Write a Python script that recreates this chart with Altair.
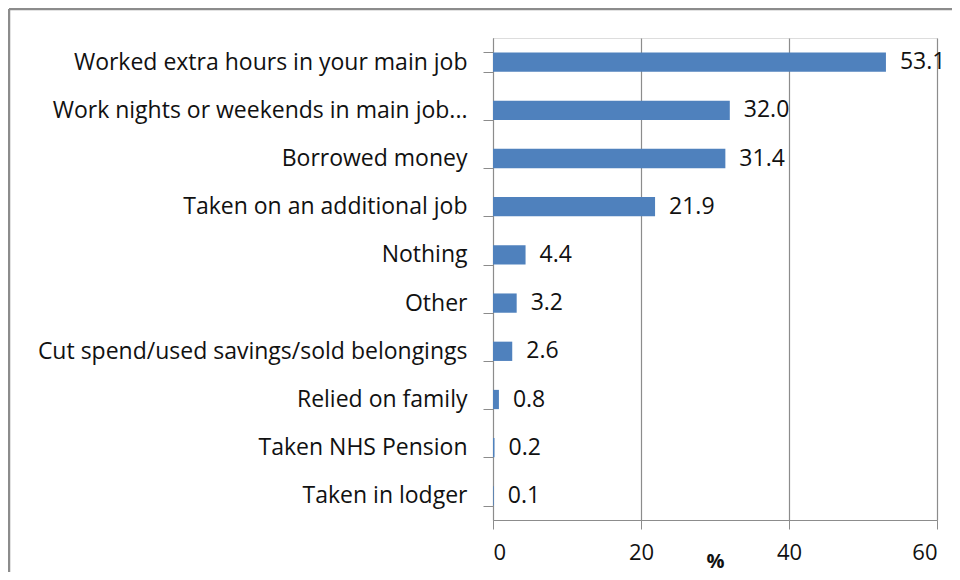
import altair as alt
import pandas as pd

categories = [
    "Worked extra hours in your main job",
    "Work nights or weekends in main job...",
    "Borrowed money",
    "Taken on an additional job",
    "Nothing",
    "Other",
    "Cut spend/used savings/sold belongings",
    "Relied on family",
    "Taken NHS Pension",
    "Taken in lodger",
]
values = [53.1, 32.0, 31.4, 21.9, 4.4, 3.2, 2.6, 0.8, 0.2, 0.1]
x_ticks = [0, 20, 40, 60]

df = pd.DataFrame({"cat": categories, "val": values})

FONT = "Open Sans"
GRAY = "#8c8c8c"
TXT = "#111111"

y_enc = alt.Y(
    "cat:N",
    sort=categories,
    title=None,
    scale=alt.Scale(paddingInner=0.6, paddingOuter=0.3),
    axis=alt.Axis(
        tickBand="extent",
        tickSize=10,
        tickColor=GRAY,
        domainColor=GRAY,
        labelFontSize=23,
        labelFont=FONT,
        labelColor=TXT,
        labelPadding=16,
        labelLimit=0,
        grid=False,
    ),
)

x_enc = alt.X(
    "val:Q",
    title="%",
    scale=alt.Scale(domain=[0, 60], nice=False),
    axis=alt.Axis(
        values=x_ticks,
        grid=True,
        gridColor=GRAY,
        gridWidth=1.2,
        tickSize=9,
        tickColor=GRAY,
        domainColor=GRAY,
        labelFontSize=22,
        labelFont=FONT,
        labelColor=TXT,
        labelPadding=13,
        titleFont=FONT,
        titleFontSize=20,
        titleFontWeight="bold",
        titleColor=TXT,
        titleY=51,
        titleBaseline="bottom",
    ),
)

frame = alt.Data(values=[{}])
border_top = alt.Chart(frame).mark_rule(color=GRAY, strokeWidth=2.5).encode(
    x=alt.value(-484), x2=alt.value(600), y=alt.value(-29)
)
border_left = alt.Chart(frame).mark_rule(color=GRAY, strokeWidth=2.5).encode(
    x=alt.value(-484), y=alt.value(-29), y2=alt.value(700)
)

bars = alt.Chart(df).mark_bar(color="#4F81BD").encode(x=x_enc, y=y_enc)

labels = alt.Chart(df).mark_text(
    align="left", baseline="middle", dx=14, fontSize=23, font=FONT, color=TXT
).encode(
    x="val:Q",
    y=alt.Y("cat:N", sort=categories),
    text=alt.Text("val:Q", format=".1f"),
)

chart = alt.layer(border_top, border_left, bars, labels).properties(
    width=444,
    height=482,
    autosize=alt.AutoSizeParams(type="none"),
    padding={"left": 485, "top": 30, "right": 15, "bottom": 52},
).configure_view(stroke=None).configure(background="white")

chart.save("out.html", embed_options={"renderer": "svg", "actions": False})
